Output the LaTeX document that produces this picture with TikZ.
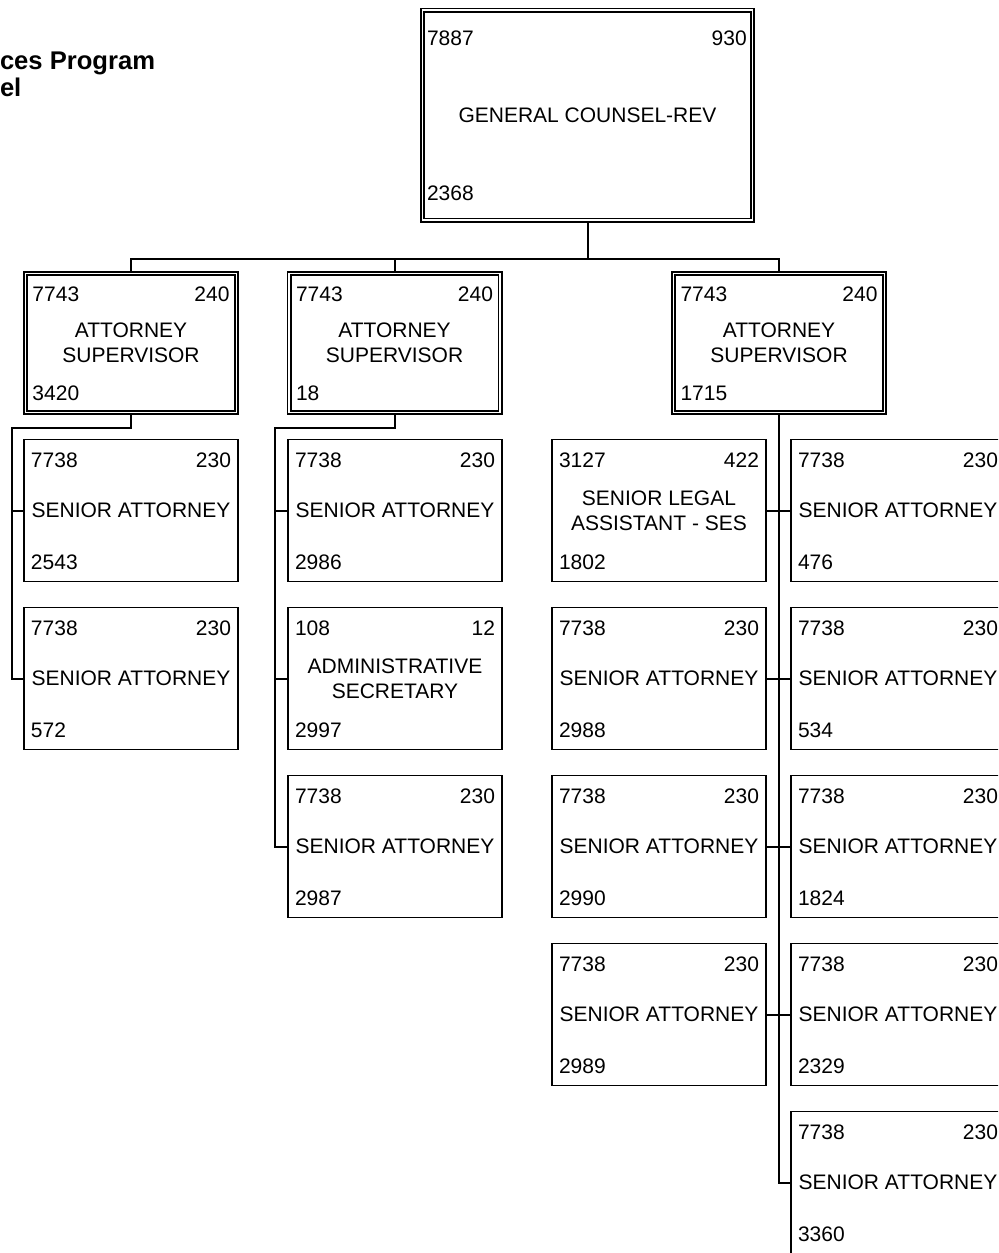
\documentclass[tikz,border=0pt]{standalone}
\usepackage{fontspec}
\setmainfont{Liberation Sans}
\usetikzlibrary{positioning,backgrounds}

\begin{document}
\begin{tikzpicture}[
  x=0.5pt,y=-0.5pt,
  font=\fontsize{10.5}{12.5}\selectfont,
  every node/.style={outer sep=0pt},
  headbox/.style={draw,line width=0.8pt,double,double distance=0.9pt,align=center,inner sep=0pt},
  supbox/.style={headbox,minimum width=105.5pt,minimum height=69.5pt},
  posbox/.style={draw,line width=0.9pt,align=center,inner sep=0pt,minimum width=107pt,minimum height=71pt},
  tl/.style={anchor=west,inner sep=0pt,xshift=3.5pt,yshift=-10.3pt},
  tr/.style={anchor=east,inner sep=0pt,xshift=-3.5pt,yshift=-10.3pt},
  bl/.style={anchor=west,inner sep=0pt,xshift=3.5pt,yshift=9.7pt},
  heading/.style={font=\bfseries\fontsize{12.8}{14}\selectfont,inner sep=0pt,anchor=base west},
  link/.style={draw,line width=1pt},
]
\useasboundingbox (0,0) rectangle (998,1253);
\clip (0,0) rectangle (998,1253);
% heading (cut at the left edge)
\node[heading] (head1) at (0,69) {ces Program};
\node[heading] (head2) at (0,96) {el};
% top of the chart
\node[headbox,minimum width=165pt,minimum height=105pt,
  label={[tl,xshift=-1.25pt,yshift=-4pt]north west:7887},
  label={[tr,xshift=0.6pt,yshift=-4pt]north east:930},
  label={[bl,xshift=-1.25pt,yshift=3.5pt]south west:2368}] (gc) at (587.5,115) {GENERAL COUNSEL-REV};
% supervisors
\node[supbox,label={[tl]north west:7743},label={[tr]north east:240},label={[bl]south west:3420}] (sup1) at (131,343) {ATTORNEY\\SUPERVISOR};
\node[supbox,label={[tl]north west:7743},label={[tr]north east:240},label={[bl]south west:18}] (sup2) at (394.5,343) {ATTORNEY\\SUPERVISOR};
\node[supbox,label={[tl]north west:7743},label={[tr]north east:240},label={[bl]south west:1715}] (sup3) at (779,343) {ATTORNEY\\SUPERVISOR};
% first supervisor's staff
\node[posbox,label={[tl]north west:7738},label={[tr]north east:230},label={[bl]south west:2543}] (c1a) at (131,510.5) {SENIOR ATTORNEY};
\node[posbox,below=13pt of c1a,label={[tl]north west:7738},label={[tr]north east:230},label={[bl]south west:572}] (c1b) {SENIOR ATTORNEY};
% second supervisor's staff
\node[posbox,label={[tl]north west:7738},label={[tr]north east:230},label={[bl]south west:2986}] (c2a) at (395,510.5) {SENIOR ATTORNEY};
\node[posbox,below=13pt of c2a,label={[tl]north west:108},label={[tr]north east:12},label={[bl]south west:2997}] (c2b) {ADMINISTRATIVE\\SECRETARY};
\node[posbox,below=13pt of c2b,label={[tl]north west:7738},label={[tr]north east:230},label={[bl]south west:2987}] (c2c) {SENIOR ATTORNEY};
% third supervisor's staff, left column
\node[posbox,label={[tl]north west:3127},label={[tr]north east:422},label={[bl]south west:1802}] (c3a) at (659,510.5) {SENIOR LEGAL\\ASSISTANT - SES};
\node[posbox,below=13pt of c3a,label={[tl]north west:7738},label={[tr]north east:230},label={[bl]south west:2988}] (c3b) {SENIOR ATTORNEY};
\node[posbox,below=13pt of c3b,label={[tl]north west:7738},label={[tr]north east:230},label={[bl]south west:2990}] (c3c) {SENIOR ATTORNEY};
\node[posbox,below=13pt of c3c,label={[tl]north west:7738},label={[tr]north east:230},label={[bl]south west:2989}] (c3d) {SENIOR ATTORNEY};
% third supervisor's staff, right column
\node[posbox,label={[tl]north west:7738},label={[tr]north east:230},label={[bl]south west:476}] (c4a) at (898,510.5) {SENIOR ATTORNEY};
\node[posbox,below=13pt of c4a,label={[tl]north west:7738},label={[tr]north east:230},label={[bl]south west:534}] (c4b) {SENIOR ATTORNEY};
\node[posbox,below=13pt of c4b,label={[tl]north west:7738},label={[tr]north east:230},label={[bl]south west:1824}] (c4c) {SENIOR ATTORNEY};
\node[posbox,below=13pt of c4c,label={[tl]north west:7738},label={[tr]north east:230},label={[bl]south west:2329}] (c4d) {SENIOR ATTORNEY};
\node[posbox,below=13pt of c4d,label={[tl]north west:7738},label={[tr]north east:230},label={[bl]south west:3360}] (c4e) {SENIOR ATTORNEY};
% connectors
\begin{scope}[on background layer]
\coordinate (bus) at (587.5,259);
\coordinate (spine1) at (12,428);
\coordinate (spine2) at (275,428);
\draw[link] (gc.south) -- (bus);
\draw[link] (sup1.north) |- (bus) -| (sup3.north);
\draw[link] (sup2.north) -- (sup2.north |- bus);
\draw[link] (sup1.south) |- (spine1) |- (c1b.west);
\draw[link] (c1a.west) -- (c1a.west -| spine1);
\draw[link] (sup2.south) |- (spine2) |- (c2c.west);
\draw[link] (c2a.west) -- (c2a.west -| spine2);
\draw[link] (c2b.west) -- (c2b.west -| spine2);
\draw[link] (sup3.south) |- (c4e.west);
\foreach \r in {a,b,c,d}
  \draw[link] (c3\r.east) -- (c4\r.west);
\end{scope}
\end{tikzpicture}
\end{document}
